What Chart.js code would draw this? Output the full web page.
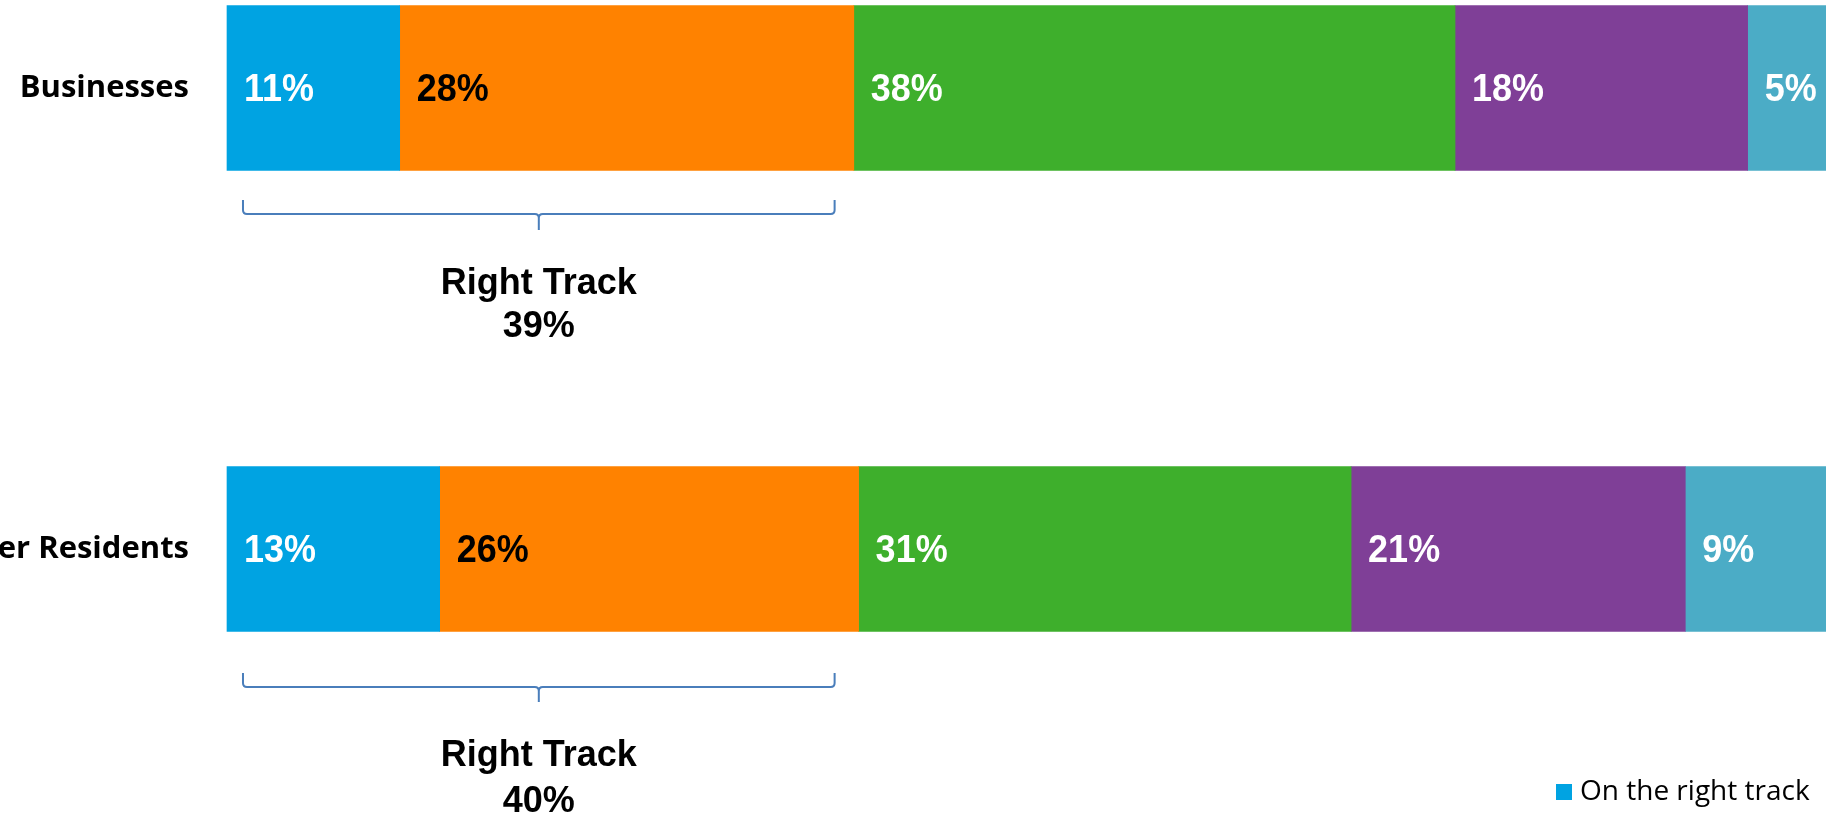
<!DOCTYPE html>
<html lang="en">
<head>
<meta charset="UTF-8">
<title>Right Track</title>
<script src="https://cdn.jsdelivr.net/npm/chart.js"></script>
<style>
  html, body { margin: 0; padding: 0; background: #fff; overflow: hidden; }
  canvas { display: block; }
</style>
</head>
<body>
<canvas id="chart" width="1826" height="815"></canvas>
<script>
// data (segment widths, labels show them rounded)
const groups = ['Businesses', 'Other Residents'];
const onRightTrack = [10.8, 13.3];
const series2 = [28.4, 26.2];
const series3 = [37.6, 30.8];
const series4 = [18.3, 20.9];
const series5 = [4.9, 8.8];
const rightTrackTotals = [39, 40];
const legendName = 'On the right track';

const colors = ['#00A3E2', '#FF8200', '#3EAF2C', '#7F3F97', '#4BACC6'];
const labelColors = ['#fff', '#000', '#fff', '#fff', '#fff'];
const braceColor = '#4A7EBB';

// brace span in axis units, and offsets below each bar centre
// (top, line, tip, caption line 1, line 2)
const braceRange = [1, 38];
const braceOffsets = [[112, 126, 142, 196, 239], [124, 138, 153, 207, 253]];

const allSeries = [onRightTrack, series2, series3, series4, series5];

const overlay = {
  id: 'overlay',
  afterDatasetsDraw(chart) {
    const ctx = chart.ctx;
    const xs = chart.scales.x, ys = chart.scales.y;
    ctx.save();

    // percent labels inside each segment (slightly tall, like the original)
    ctx.font = 'bold 36px "Liberation Sans", Arial, sans-serif';
    ctx.textAlign = 'left';
    ctx.textBaseline = 'middle';
    chart.data.datasets.forEach((ds, di) => {
      chart.getDatasetMeta(di).data.forEach((el, i) => {
        ctx.save();
        ctx.translate(Math.min(el.base, el.x) + 17, el.y + 2);
        ctx.scale(1, 1.1);
        ctx.fillStyle = labelColors[di];
        ctx.fillText(Math.round(ds.data[i]) + '%', 0, 0);
        ctx.restore();
      });
    });

    // brace + "Right Track" summary under each bar
    groups.forEach((g, i) => {
      const yc = ys.getPixelForValue(i);
      const [oTop, oLine, oTip, oT1, oT2] = braceOffsets[i];
      const x1 = xs.getPixelForValue(braceRange[0]);
      const x2 = xs.getPixelForValue(braceRange[1]);
      const cx = (x1 + x2) / 2;
      const top = yc + oTop, line = yc + oLine, tip = yc + oTip, r = 4;
      ctx.strokeStyle = braceColor;
      ctx.lineWidth = 2;
      ctx.beginPath();
      ctx.moveTo(x1, top);
      ctx.lineTo(x1, line - r);
      ctx.quadraticCurveTo(x1, line, x1 + r, line);
      ctx.lineTo(cx - r, line);
      ctx.quadraticCurveTo(cx, line, cx, line + r);
      ctx.lineTo(cx, tip);
      ctx.moveTo(x2, top);
      ctx.lineTo(x2, line - r);
      ctx.quadraticCurveTo(x2, line, x2 - r, line);
      ctx.lineTo(cx + r, line);
      ctx.quadraticCurveTo(cx, line, cx, line + r);
      ctx.stroke();

      ctx.fillStyle = '#000';
      ctx.textAlign = 'center';
      ctx.fillText('Right Track', cx, yc + oT1);
      ctx.fillText(rightTrackTotals[i] + '%', cx, yc + oT2);
    });

    // single visible legend entry, bottom right
    const lx = chart.width - 270, ly = chart.height - 23;
    ctx.fillStyle = colors[0];
    ctx.fillRect(lx, ly - 8, 16, 16);
    ctx.fillStyle = '#000';
    ctx.textAlign = 'left';
    ctx.font = '28px "Open Sans", sans-serif';
    ctx.fillText(chart.data.datasets[0].label, lx + 24, ly);
    ctx.restore();
  }
};

new Chart(document.getElementById('chart'), {
  type: 'bar',
  data: {
    labels: groups,
    datasets: allSeries.map((vals, k) => ({
      label: k === 0 ? legendName : '',
      data: vals,
      backgroundColor: colors[k],
      borderWidth: 0,
      barThickness: 165,
      clip: false
    }))
  },
  options: {
    indexAxis: 'y',
    responsive: false,
    animation: false,
    layout: { padding: { top: 88, bottom: 266, left: 0, right: 0 } },
    plugins: { legend: { display: false }, tooltip: { enabled: false } },
    scales: {
      x: { stacked: true, display: false, min: 0, max: 100 },
      y: {
        stacked: true,
        offset: false,
        grid: { display: false },
        border: { display: false },
        ticks: {
          color: '#000',
          padding: 30,
          font: { family: '"Open Sans", sans-serif', weight: 'bold', size: 31 }
        },
        afterFit(scale) { scale.width = 227; }
      }
    }
  },
  plugins: [overlay]
});
</script>
</body>
</html>
